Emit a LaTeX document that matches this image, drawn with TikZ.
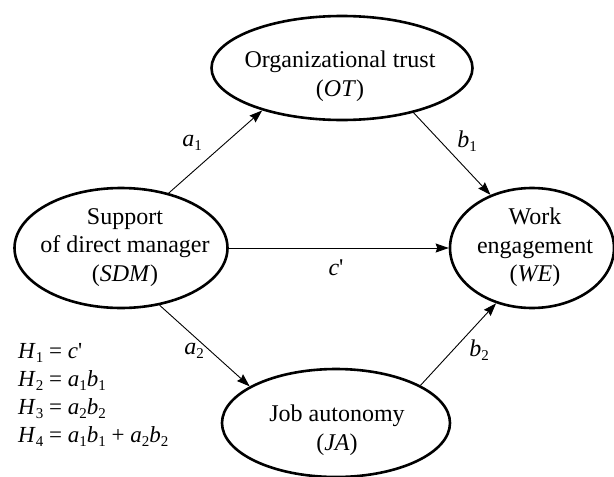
\documentclass[tikz,border=0pt]{standalone}
\usepackage{fontspec}
\setmainfont{Liberation Serif}
\usetikzlibrary{shapes.geometric,arrows.meta}
\newcommand\sbx[1]{\raisebox{-4.5pt}{\fontsize{15}{15}\selectfont #1}}
\begin{document}
\begin{tikzpicture}[x=1pt,y=-1pt,
  ellbox/.style={ellipse,draw,line width=2.6pt,inner sep=0pt},
  lbl/.style={align=center,font=\fontsize{24}{28.5}\selectfont,inner sep=0pt},
  coef/.style={font=\fontsize{24}{28}\selectfont,inner sep=0pt},
  eq/.style={font=\fontsize{23}{28}\selectfont,inner sep=0pt,anchor=base west},
  conn/.style={line width=0.9pt,-{Stealth[length=13pt,width=9pt,inset=1.5pt]}}]
\useasboundingbox (0,0) rectangle (614,477);
% ellipses
\node[ellbox,minimum width=261pt,minimum height=104pt] (OT) at (342,68) {};
\node[ellbox,minimum width=213pt,minimum height=120pt] (SDM) at (121,248) {};
\node[ellbox,minimum width=164pt,minimum height=120pt] (WE) at (532,248) {};
\node[ellbox,minimum width=228pt,minimum height=108pt] (JA) at (336,423) {};
% texts
\node[lbl] (tOT) at (340,76) {Organizational trust\\(\textit{OT})};
\node[lbl] (tSDM) at (125,247.5) {Support\\of direct manager\\(\textit{SDM})};
\node[lbl] (tWE) at (535,247.5) {Work\\engagement\\(\textit{WE})};
\node[lbl] (tJA) at (337,430) {Job autonomy\\(\textit{JA})};
% connectors
\draw[conn] (SDM.49) -- (OT.208);
\draw[conn] (OT.-32) -- (WE.128);
\draw[conn] (SDM.east) -- (WE.west);
\draw[conn] (SDM.-56) -- (JA.157);
\draw[conn] (JA.24) -- (WE.237);
% coefficient labels
\node[coef] (la1) at (192,143) {\textit{a}\sbx{1}};
\node[coef] (lb1) at (467,141) {\textit{b}\sbx{1}};
\node[coef] (lc) at (336,268) {\textit{c}\textquotesingle};
\node[coef] (la2) at (194,351) {\textit{a}\sbx{2}};
\node[coef] (lb2) at (479,350) {\textit{b}\sbx{2}};
% hypotheses
\node[eq] (h1) at (18,358) {\textit{H}\sbx{1} = \textit{c}\textquotesingle};
\node[eq] (h2) at (18,386) {\textit{H}\sbx{2} = \textit{a}\sbx{1}\textit{b}\sbx{1}};
\node[eq] (h3) at (18,414) {\textit{H}\sbx{3} = \textit{a}\sbx{2}\textit{b}\sbx{2}};
\node[eq] (h4) at (18,442) {\textit{H}\sbx{4} = \textit{a}\sbx{1}\textit{b}\sbx{1} + \textit{a}\sbx{2}\textit{b}\sbx{2}};
\end{tikzpicture}
\end{document}
